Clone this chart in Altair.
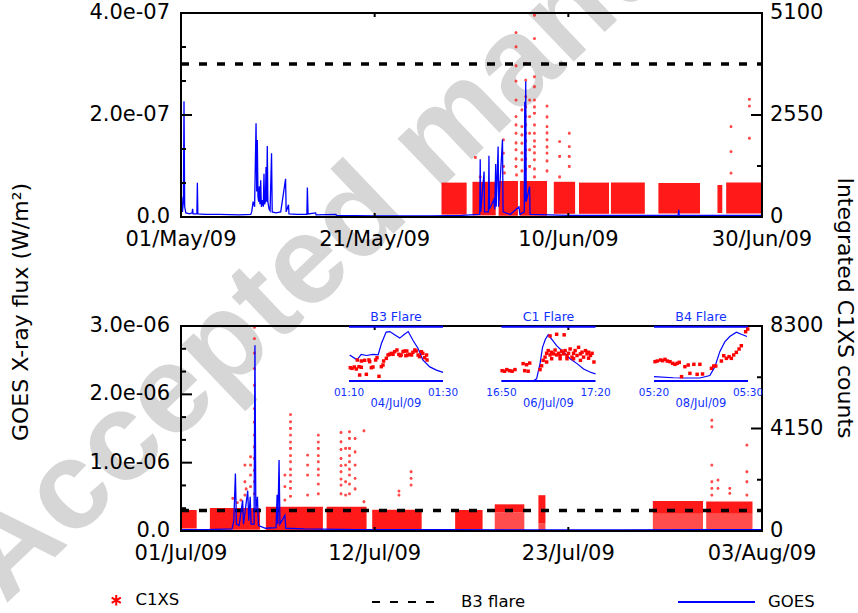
import json
import altair as alt
import pandas as pd

FONT = "DejaVu Sans"
RED = "#ff0000"
BLUE = "#0000ff"
TXT_BLUE = "#1030ff"
CW, CH = 858, 613          # canvas
L, R = 181, 762            # plot frame left / right (both panels)
T1, B1 = 13, 217           # top panel frame
T2, B2 = 326, 531          # bottom panel frame

# ---------------- axis ticks / labels ----------------
top_day_domain = [0, 60]
bot_day_domain = [0, 33]
top_x_ticks = [0, 20, 40, 60]
top_x_labels = ["01/May/09", "21/May/09", "10/Jun/09", "30/Jun/09"]
bot_x_ticks = [0, 11, 22, 33]
bot_x_labels = ["01/Jul/09", "12/Jul/09", "23/Jul/09", "03/Aug/09"]
top_flux_ticks = [0.0, 2.0e-7, 4.0e-7]
top_flux_labels = ["0.0", "2.0e-07", "4.0e-07"]
top_flux_minor = [0.6667e-7, 1.3333e-7, 2.6667e-7, 3.3333e-7]
bot_flux_ticks = [0.0, 1.0e-6, 2.0e-6, 3.0e-6]
bot_flux_labels = ["0.0", "1.0e-06", "2.0e-06", "3.0e-06"]
bot_flux_minor = [0.3333e-6, 0.6667e-6, 1.3333e-6, 1.6667e-6, 2.3333e-6, 2.6667e-6]
top_cnt_ticks = [0, 2550, 5100]
top_cnt_labels = ["0", "2550", "5100"]
top_cnt_minor = [1275, 3825]
bot_cnt_ticks = [0, 4150, 8300]
bot_cnt_labels = ["0", "4150", "8300"]
bot_cnt_minor = [2075, 6225]
b3_level = 3.0e-7
left_title = "GOES X-ray flux (W/m²)"
right_title = "Integrated C1XS counts"
watermark = "Accepted manuscript"

# ---------------- GOES (top: days since 01/May/09, flux in 1e-7 W/m2) ----------------
goes_top_day = [0.0, 0.08, 0.15, 0.25, 0.31, 0.38, 0.5, 0.9, 1.15, 1.2, 1.25, 1.64, 1.69, 1.74, 2.5, 4, 6,
                7.2, 7.3, 7.45, 7.6, 7.75, 7.82, 7.88, 7.95, 8.02, 8.09, 8.15, 8.23, 8.3, 8.43, 8.5, 8.57, 8.63,
                8.72, 8.78, 8.84, 8.91, 8.97, 9.1, 9.2, 9.35, 9.42, 9.8, 10.3, 10.8, 10.86, 11.1, 11.15, 12.0,
                13.0, 13.05, 13.12, 13.9, 13.95, 16, 16.05, 20, 26, 29, 30.85, 30.9, 30.95, 31.3, 31.35, 31.75,
                31.8, 31.85, 32.3, 32.4, 32.5, 32.55, 32.75, 32.8, 33.2, 33.26, 34, 34.9, 35.0, 35.45, 35.5,
                35.55, 35.6, 35.65, 36.0, 36.05, 40, 45, 51.35, 51.4, 51.45, 55, 60]
goes_top_flux_e7 = [0.08, 0.39, 0.1, 0.3, 2.27, 0.2, 0.08, 0.06, 0.08, 0.16, 0.06, 0.06, 0.67, 0.06, 0.05, 0.05, 0.04,
                    0.05, 0.1, 0.3, 0.2, 1.84, 0.5, 1.51, 0.4, 0.3, 0.6, 0.25, 0.72, 0.2, 0.33, 0.2, 0.85, 0.25,
                    0.3, 0.98, 0.3, 1.39, 0.3, 0.15, 0.12, 1.25, 0.1, 0.08, 0.1, 0.75, 0.1, 0.24, 0.06, 0.05,
                    0.05, 0.58, 0.06, 0.08, 0.04, 0.05, 0.03, 0.02, 0.02, 0.03, 0.05, 1.13, 0.1, 0.89, 0.1, 0.1,
                    1.2, 0.15, 0.34, 0.15, 1.04, 0.2, 1.38, 0.2, 1.52, 0.1, 0.05, 0.2, 0.05, 0.1, 2.26,
                    0.3, 2.66, 0.3, 0.6, 0.05, 0.03, 0.03, 0.03, 0.14, 0.03, 0.03, 0.03]

# ---------------- GOES (bottom: days since 01/Jul/09, flux in 1e-6 W/m2) ----------------
goes_bot_day = [0, 1.5, 2.9, 3.0, 3.09, 3.15, 3.3, 3.5, 3.55, 3.79, 3.85, 3.93, 3.98, 4.15, 4.2, 4.25, 4.34,
                4.4, 4.8, 5.4, 5.46, 5.5, 5.57, 5.62, 5.9, 5.95, 7, 10, 15, 20, 25, 30, 33]
goes_bot_flux_e6 = [0.02, 0.02, 0.03, 0.15, 0.84, 0.1, 0.08, 0.45, 0.1, 0.59, 0.15, 0.5, 0.1, 0.1, 2.72, 0.3, 0.5,
                    0.08, 0.04, 0.05, 0.53, 0.1, 1.04, 0.1, 0.23, 0.04, 0.03, 0.02, 0.02, 0.015, 0.015, 0.02, 0.02]

# ---------------- C1XS observing blocks (dense clouds of points) ----------------
top_blk_start = [26.9, 30.1, 32.8, 35.0, 38.5, 41.1, 44.4, 49.3, 55.4, 56.3]
top_blk_end = [29.5, 32.5, 34.8, 37.8, 40.7, 44.2, 47.9, 53.6, 55.9, 60.0]
top_blk_low = [60, 40, 30, 30, 80, 80, 80, 90, 100, 90]
top_blk_high = [860, 880, 900, 900, 880, 860, 860, 850, 800, 860]

bot_blk_start = [0.0, 1.64, 4.82, 8.27, 10.86, 15.57, 17.82, 20.3, 26.8, 29.83]
bot_blk_end = [0.89, 4.49, 8.06, 10.54, 13.67, 17.13, 19.5, 20.7, 29.65, 32.46]
bot_blk_low = [100, 50, 40, 50, 50, 60, 750, 300, 700, 700]
bot_blk_high = [850, 930, 980, 980, 860, 850, 1080, 1450, 1210, 1190]
bot_sparse_start = [17.82, 20.3, 26.8, 29.83]
bot_sparse_end = [19.5, 20.7, 29.65, 32.46]
bot_sparse_low = [0, 0, 0, 0]
bot_sparse_high = [750, 300, 700, 700]

# ---------------- C1XS points above the bands ----------------
top_out_day = [30.4, 30.9, 33.3, 33.3, 33.3, 33.4,
               34.6, 34.6, 34.6, 34.6, 34.6, 34.6, 34.6, 34.6, 34.6, 34.6, 34.6, 34.6, 34.65,
               35.2, 35.2, 35.2, 35.2, 35.2, 35.2, 35.2,
               35.6, 35.6, 35.6, 35.6, 35.6, 35.6, 35.6, 35.6, 35.6, 35.6, 35.6,
               36.0, 36.0, 36.0, 36.0, 36.0,
               36.5, 36.5, 36.5, 36.5, 36.5, 36.5, 36.5, 36.5, 36.5, 36.5, 36.5, 36.5, 36.5, 36.5, 36.5,
               37.8, 37.8, 37.8, 37.8, 37.8, 37.8, 37.8, 37.8, 37.8,
               39.1, 39.1, 39.1, 40.1, 40.1, 40.1, 40.1,
               56.8, 56.8, 56.8, 58.7, 58.7, 58.7]
top_out_cnt = [1487, 1000, 1927, 1595, 1262, 1100,
               4610, 4253, 3779, 3397, 2924, 2508, 2300, 2093, 1850, 1678, 1450, 1262, 1050,
               2675, 2260, 2050, 1844, 1600, 1429, 1150,
               3837, 3422, 3007, 2750, 2508, 2300, 2093, 1900, 1678, 1450, 1200,
               2924, 2508, 2093, 1678, 1262,
               5042, 4460, 3505, 3256, 2924, 2750, 2592, 2300, 2093, 1900, 1761, 1600, 1429, 1200, 1000,
               2774, 2500, 2259, 2100, 1927, 1750, 1595, 1400, 1150,
               1886, 1512, 1000, 2093, 1761, 1512, 1262,
               2259, 1636, 1096, 2940, 2774, 1969]

bot_out_day = [2.94, 3.2, 3.4, 3.63, 3.63, 3.63, 3.7, 3.95, 3.95, 3.95, 3.95,
               4.17, 4.17, 4.17, 4.17, 4.17, 4.17, 4.17, 4.17, 4.17, 4.17, 4.17, 4.17, 4.17,
               5.9, 5.9, 5.9,
               6.22, 6.22, 6.22, 6.22, 6.22, 6.22, 6.22, 6.22, 6.22, 6.22, 6.22, 6.22, 6.22,
               7.19, 7.19, 7.19, 7.19,
               7.8, 7.8, 7.8, 7.8, 7.8, 7.8, 7.8, 7.8, 7.8,
               9.09, 9.09, 9.09, 9.09, 9.09, 9.09, 9.09, 9.09, 9.09,
               9.35, 9.35, 9.35, 9.35,
               9.57, 9.57, 9.57, 9.57, 9.57, 9.57, 9.57, 9.57, 9.57,
               9.89, 9.89, 9.89, 9.89, 9.89,
               10.39, 10.39, 12.38, 12.38, 13.07, 13.07, 13.07,
               30.15, 30.15, 30.15, 30.15, 30.15, 30.15, 30.5, 30.5, 31.17, 31.17,
               32.14, 32.14, 32.14, 32.14]
bot_out_cnt = [1320, 1150, 1250, 2667, 1993, 1455, 1700, 3004, 2667, 2263, 1800,
               8250, 7786, 7200, 6574, 5900, 4957, 4400, 3879, 3400, 2936, 2450, 1993, 1500,
               2263, 1800, 1253,
               4715, 4418, 4150, 3879, 3600, 3341, 3050, 2802, 2500, 2263, 2000, 1724, 1400,
               3071, 2667, 2263, 1455,
               3879, 3600, 3341, 3050, 2802, 2500, 2263, 1900, 1500,
               3987, 3610, 3300, 2936, 2650, 2398, 2100, 1859, 1500,
               3341, 2667, 1993, 1455,
               4014, 3745, 3341, 3050, 2802, 2500, 2263, 1900, 1500,
               3745, 3200, 2667, 2128, 1700,
               4054, 1185, 1616, 1455, 2398, 2128, 1859,
               4485, 4216, 2667, 1993, 1724, 1450, 2061, 1724, 1724, 1520,
               3475, 2398, 1993, 1455]

# ---------------- insets (minutes from start, relative level 0..1) ----------------
inset_titles = ["B3 Flare", "C1 Flare", "B4 Flare"]
inset_start = ["01:10", "16:50", "05:20"]
inset_end = ["01:30", "17:20", "05:30"]
inset_dates = ["04/Jul/09", "06/Jul/09", "08/Jul/09"]
inset_minutes = [20, 30, 10]

b3_goes_min = [0.14, 1.7, 2.6, 3.7, 5.1, 6.2, 6.9, 7.9, 8.7, 9.7, 10.8, 11.8, 12.6, 13.6, 14.7, 15.7, 17.2, 18.6, 20.0]
b3_goes_rel = [0.48, 0.39, 0.49, 0.47, 0.49, 0.48, 0.69, 0.90, 0.91, 0.85, 0.79, 0.86, 0.91, 0.75, 0.60, 0.39, 0.26, 0.20, 0.16]
b3_c1xs_min = [0.28, 0.64, 1.13, 1.56, 2.13, 2.62, 2.27, 3.69, 1.77, 2.62, 3.33, 4.25, 4.40, 4.75, 5.1, 5.67, 5.96,
               6.38, 6.88, 7.23, 7.37, 7.94, 8.30, 8.65, 9.0, 9.36, 9.71, 10.2, 10.6, 10.9, 11.1, 11.5, 11.8, 12.1,
               12.3, 12.5, 12.9, 13.3, 13.6, 14.0, 14.3, 14.7, 15.0, 15.4, 15.7, 16.1, 16.5, 16.6]
b3_c1xs_rel = [0.245, 0.233, 0.258, 0.221, 0.264, 0.252, 0.110, 0.123, 0.387, 0.368, 0.380, 0.387, 0.356, 0.245, 0.258,
               0.387, 0.429, 0.086, 0.264, 0.294, 0.368, 0.417, 0.479, 0.491, 0.509, 0.491, 0.540, 0.571, 0.491,
               0.466, 0.479, 0.540, 0.552, 0.466, 0.552, 0.479, 0.491, 0.479, 0.528, 0.571, 0.552, 0.479, 0.448,
               0.540, 0.509, 0.429, 0.479, 0.387]

c1_goes_min = [0, 10.1, 11.2, 12.3, 13.1, 14.0, 14.9, 16.0, 17.6, 19.8, 21.9, 24.1, 26.2, 28.4, 30]
c1_goes_rel = [0, 0, 0.04, 0.32, 0.62, 0.77, 0.85, 0.77, 0.65, 0.53, 0.41, 0.32, 0.22, 0.16, 0.13]
c1_c1xs_min = [0.2, 1.0, 1.7, 2.6, 3.4, 4.3, 6.9, 8.0, 9.0, 7.4, 8.5, 12.3, 12.8, 13.3, 13.9, 14.4, 14.9, 15.5,
               16.0, 16.6, 17.1, 17.6, 18.2, 18.7, 19.2, 19.8, 20.3, 20.9, 21.4, 21.9, 22.5, 23.0, 23.5, 24.1,
               24.6, 25.2, 25.7, 26.2, 26.8, 27.3, 27.8, 28.4, 28.9, 29.5, 15.5, 17.6, 20.0, 14.4, 16.0, 18.7,
               20.9, 23.0, 25.2, 27.8]
c1_c1xs_rel = [0.19, 0.18, 0.21, 0.19, 0.18, 0.21, 0.32, 0.30, 0.33, 0.19, 0.18, 0.21, 0.28, 0.38, 0.44, 0.51,
               0.56, 0.48, 0.53, 0.50, 0.57, 0.48, 0.51, 0.47, 0.55, 0.50, 0.56, 0.47, 0.51, 0.59, 0.44, 0.51,
               0.56, 0.47, 0.62, 0.50, 0.53, 0.44, 0.56, 0.50, 0.53, 0.47, 0.51, 0.35, 0.83, 0.86, 0.85, 0.35,
               0.41, 0.41, 0.41, 0.41, 0.38, 0.42]

b4_goes_min = [0, 2.05, 3.46, 4.88, 5.94, 6.47, 7.0, 7.53, 8.06, 8.76, 9.29, 9.89]
b4_goes_rel = [0.08, 0.06, 0.055, 0.055, 0.10, 0.26, 0.54, 0.72, 0.82, 0.90, 0.86, 0.82]
b4_c1xs_min = [0.11, 0.35, 0.71, 0.92, 1.17, 1.41, 1.70, 1.98, 2.23, 2.47, 2.69, 2.93, 3.29, 3.64, 3.82, 4.24,
               4.59, 4.88, 5.16, 6.11, 6.36, 6.57, 7.17, 7.42, 7.70, 7.99, 8.23, 8.48, 8.76, 9.05, 9.29, 9.75, 9.97]
b4_c1xs_rel = [0.356, 0.368, 0.387, 0.374, 0.399, 0.368, 0.356, 0.325, 0.307, 0.325, 0.344, 0.080, 0.264, 0.294,
               0.141, 0.307, 0.123, 0.307, 0.129, 0.233, 0.276, 0.276, 0.368, 0.466, 0.417, 0.448, 0.417, 0.479,
               0.528, 0.589, 0.650, 0.908, 0.957]

# ---------------- scales (pixel ranges = panel frames) ----------------
INSET_STEP = 1.6223            # inset spacing, in inset widths
INS_L, INS_R, INS_T, INS_B = 349, 748, 326.7, 381
TICK_FS = 21
TITLE_FS = 22


def S(domain, rng):
    return alt.Scale(domain=domain, range=rng, nice=False, zero=False)


top_day = S(top_day_domain, [L, R])
top_flux = S([0, 4e-7], [B1, T1])
top_cnt = S([0, 5100], [B1, T1])
bot_day = S(bot_day_domain, [L, R])
bot_flux = S([0, 3e-6], [B2, T2])
bot_cnt = S([0, 8300], [B2, T2])
ins_x = S([0, 2 * INSET_STEP + 1], [INS_L, INS_R])
ins_y = S([0, 1], [INS_B, INS_T])

layers = []

# ---------------- watermark (behind everything) ----------------
layers.append(alt.Chart(pd.DataFrame({"t": [watermark]})).mark_text(
    angle=316.3, font="Liberation Sans", fontWeight="bold", fontSize=125, color="#d6d6d6",
    align="left", baseline="alphabetic").encode(text="t:N", x=alt.value(5), y=alt.value(605)))


def X(f, sc):
    return alt.X(f, scale=sc, axis=None)


def Y(f, sc):
    return alt.Y(f, scale=sc, axis=None)


ASTERISK = "M0,-1L0,1M-0.87,-0.5L0.87,0.5M-0.87,0.5L0.87,-0.5"
LEG = dict(orient="none", title=None, padding=0, labelFont=FONT, labelFontSize=16.5, labelColor="black",
           symbolOpacity=1)
LEG_ROW = 601  # centre line of the legend row


def panel(day_sc, flux_sc, cnt_sc, top_px, bot_px, blk, out_day, out_cnt, goes_day, goes_flux, dom,
          xt, xl, ft, fl, fmin, ct, cl, cmin, legend):
    out = []
    # C1XS dense blocks
    out.append(alt.Chart(blk).mark_rect(color=RED, opacity=0.9).encode(
        x=X("s:Q", day_sc), x2="e:Q", y=Y("lo:Q", cnt_sc), y2="hi:Q"))
    # C1XS individual points
    pts_df = pd.DataFrame({"day": out_day, "cnt": out_cnt, "c": "C1XS"})
    enc = dict(x=X("day:Q", day_sc), y=Y("cnt:Q", cnt_sc))
    if legend:
        enc["shape"] = alt.Shape("c:N", scale=alt.Scale(domain=["C1XS"], range=[ASTERISK]),
                                 legend=alt.Legend(legendX=108, legendY=LEG_ROW - 9, symbolSize=110,
                                                   symbolStrokeWidth=2, symbolStrokeColor=RED,
                                                   symbolFillColor="transparent", labelOffset=11, **LEG))
    out.append(alt.Chart(pts_df).mark_point(shape=ASTERISK, color=RED, size=8, strokeWidth=1.6,
                                            filled=False).encode(**enc))
    # B3 flare level
    b3_df = pd.DataFrame({"x0": [dom[0]], "x1": [dom[1]], "lvl": [b3_level], "b": ["B3 flare"]})
    enc = dict(x=X("x0:Q", day_sc), x2="x1:Q", y=Y("lvl:Q", flux_sc))
    if legend:
        enc["strokeDash"] = alt.StrokeDash("b:N", scale=alt.Scale(domain=["B3 flare"], range=[[8, 10]]),
                                           legend=alt.Legend(legendX=371, legendY=LEG_ROW - 33, symbolType="stroke",
                                                             symbolSize=66 * 66, symbolStrokeWidth=2,
                                                             symbolStrokeColor="black", labelOffset=22, **LEG))
        out.append(alt.Chart(b3_df).mark_rule(color="black", strokeWidth=3.5).encode(**enc))
    else:
        out.append(alt.Chart(b3_df).mark_rule(color="black", strokeWidth=3.5, strokeDash=[8, 10]).encode(**enc))
    # GOES
    g_df = pd.DataFrame({"day": goes_day, "flux": goes_flux, "g": "GOES"})
    enc = dict(x=X("day:Q", day_sc), y=Y("flux:Q", flux_sc))
    if legend:
        enc["color"] = alt.Color("g:N", scale=alt.Scale(domain=["GOES"], range=[BLUE]),
                                 legend=alt.Legend(legendX=677, legendY=LEG_ROW - 38.5, symbolType="stroke",
                                                   symbolSize=77 * 77, symbolStrokeWidth=2, labelOffset=12, **LEG))
        out.append(alt.Chart(g_df).mark_line(strokeWidth=1.3).encode(**enc))
    else:
        out.append(alt.Chart(g_df).mark_line(color=BLUE, strokeWidth=1.3).encode(**enc))
    # frame
    fr = pd.DataFrame({"x0": [dom[0]], "x1": [dom[1]], "y0": [0.0], "y1": [ft[-1]]})
    out.append(alt.Chart(fr).mark_rect(fill=None, stroke="black", strokeWidth=2).encode(
        x=X("x0:Q", day_sc), x2="x1:Q", y=Y("y0:Q", flux_sc), y2="y1:Q"))
    # ticks (inward)
    rule = lambda df: alt.Chart(df).mark_rule(color="black", strokeWidth=2)
    out.append(rule(pd.DataFrame({"v": ft})).encode(y=Y("v:Q", flux_sc), x=alt.value(L), x2=alt.value(L + 11)))
    out.append(rule(pd.DataFrame({"v": fmin})).encode(y=Y("v:Q", flux_sc), x=alt.value(L), x2=alt.value(L + 5)))
    out.append(rule(pd.DataFrame({"v": ct})).encode(y=Y("v:Q", cnt_sc), x=alt.value(R - 11), x2=alt.value(R)))
    out.append(rule(pd.DataFrame({"v": cmin})).encode(y=Y("v:Q", cnt_sc), x=alt.value(R - 5), x2=alt.value(R)))
    out.append(rule(pd.DataFrame({"v": xt})).encode(x=X("v:Q", day_sc), y=alt.value(bot_px - 4),
                                                     y2=alt.value(bot_px)))
    out.append(rule(pd.DataFrame({"v": xt})).encode(x=X("v:Q", day_sc), y=alt.value(top_px),
                                                     y2=alt.value(top_px + 4)))
    # tick labels
    txt = dict(font=FONT, fontSize=TICK_FS, color="black")
    out.append(alt.Chart(pd.DataFrame({"v": xt, "t": xl})).mark_text(baseline="top", align="center", **txt).encode(
        x=X("v:Q", day_sc), y=alt.value(bot_px + 12), text="t:N"))
    out.append(alt.Chart(pd.DataFrame({"v": ft, "t": fl})).mark_text(baseline="middle", align="right", **txt).encode(
        y=Y("v:Q", flux_sc), x=alt.value(L - 11), text="t:N"))
    out.append(alt.Chart(pd.DataFrame({"v": ct, "t": cl})).mark_text(baseline="middle", align="left", **txt).encode(
        y=Y("v:Q", cnt_sc), x=alt.value(R + 8), text="t:N"))
    return out


top_blk_df = pd.DataFrame({"s": top_blk_start, "e": top_blk_end, "lo": top_blk_low, "hi": top_blk_high})
bot_blk_df = pd.DataFrame({"s": bot_blk_start, "e": bot_blk_end, "lo": bot_blk_low, "hi": bot_blk_high})
bot_sp_df = pd.DataFrame({"s": bot_sparse_start, "e": bot_sparse_end, "lo": bot_sparse_low, "hi": bot_sparse_high})

# sparse lower parts of some bottom blocks
layers.append(alt.Chart(bot_sp_df).mark_rect(color=RED, opacity=0.7).encode(
    x=X("s:Q", bot_day), x2="e:Q", y=Y("lo:Q", bot_cnt), y2="hi:Q"))

layers += panel(top_day, top_flux, top_cnt, T1, B1, top_blk_df, top_out_day, top_out_cnt,
                goes_top_day, [v * 1e-7 for v in goes_top_flux_e7], top_day_domain,
                top_x_ticks, top_x_labels, top_flux_ticks, top_flux_labels, top_flux_minor,
                top_cnt_ticks, top_cnt_labels, top_cnt_minor, legend=False)
layers += panel(bot_day, bot_flux, bot_cnt, T2, B2, bot_blk_df, bot_out_day, bot_out_cnt,
                goes_bot_day, [v * 1e-6 for v in goes_bot_flux_e6], bot_day_domain,
                bot_x_ticks, bot_x_labels, bot_flux_ticks, bot_flux_labels, bot_flux_minor,
                bot_cnt_ticks, bot_cnt_labels, bot_cnt_minor, legend=True)

# ---------------- insets ----------------
ins_goes_rows, ins_pts_rows = [], []
for k, (mins, rels) in enumerate([(b3_goes_min, b3_goes_rel), (c1_goes_min, c1_goes_rel), (b4_goes_min, b4_goes_rel)]):
    for m, r in zip(mins, rels):
        ins_goes_rows.append({"k": k, "xi": k * INSET_STEP + m / inset_minutes[k], "rel": r})
for k, (mins, rels) in enumerate([(b3_c1xs_min, b3_c1xs_rel), (c1_c1xs_min, c1_c1xs_rel), (b4_c1xs_min, b4_c1xs_rel)]):
    for m, r in zip(mins, rels):
        ins_pts_rows.append({"k": k, "xi": k * INSET_STEP + m / inset_minutes[k], "rel": r})
ins_frame_df = pd.DataFrame([{"x0": k * INSET_STEP, "x1": k * INSET_STEP + 1, "rel": r}
                             for k in range(3) for r in (0, 1)])
ins_title_df = pd.DataFrame({"t": inset_titles, "xi": [k * INSET_STEP + 0.5 for k in range(3)], "rel": 1})
ins_date_df = pd.DataFrame({"t": inset_dates, "xi": [k * INSET_STEP + 0.5 for k in range(3)], "rel": 0})
ins_time_df = pd.DataFrame({"t": inset_start + inset_end,
                            "xi": [k * INSET_STEP for k in range(3)] + [k * INSET_STEP + 1 for k in range(3)],
                            "rel": 0})

layers.append(alt.Chart(ins_frame_df).mark_rule(color=BLUE, strokeWidth=2).encode(
    x=X("x0:Q", ins_x), x2="x1:Q", y=Y("rel:Q", ins_y)))
layers.append(alt.Chart(pd.DataFrame(ins_goes_rows)).mark_line(color=BLUE, strokeWidth=1.2).encode(
    x=X("xi:Q", ins_x), y=Y("rel:Q", ins_y), detail="k:N"))
layers.append(alt.Chart(pd.DataFrame(ins_pts_rows)).mark_square(color=RED, size=12, opacity=1).encode(
    x=X("xi:Q", ins_x), y=Y("rel:Q", ins_y)))
layers.append(alt.Chart(ins_title_df).mark_text(font=FONT, fontSize=12.5, color=TXT_BLUE, dy=-10).encode(
    x=X("xi:Q", ins_x), y=Y("rel:Q", ins_y), text="t:N"))
layers.append(alt.Chart(ins_time_df).mark_text(font=FONT, fontSize=10.5, color=TXT_BLUE, dy=11.7).encode(
    x=X("xi:Q", ins_x), y=Y("rel:Q", ins_y), text="t:N"))
layers.append(alt.Chart(ins_date_df).mark_text(font=FONT, fontSize=11.5, color=TXT_BLUE, dy=23.3).encode(
    x=X("xi:Q", ins_x), y=Y("rel:Q", ins_y), text="t:N"))

# ---------------- axis titles ----------------
layers.append(alt.Chart(pd.DataFrame({"t": [left_title]})).mark_text(
    font=FONT, fontSize=TITLE_FS, color="black", angle=270, align="center", baseline="middle").encode(
    text="t:N", x=alt.value(21), y=alt.value(312)))
layers.append(alt.Chart(pd.DataFrame({"t": [right_title]})).mark_text(
    font=FONT, fontSize=TITLE_FS, color="black", angle=90, align="center", baseline="middle").encode(
    text="t:N", x=alt.value(845), y=alt.value(308)))

chart = alt.layer(*layers).resolve_scale(
    x="independent", y="independent", shape="independent", color="independent", strokeDash="independent"
).properties(
    width=CW, height=CH, autosize=alt.AutoSizeParams(type="none"), padding=0, background="white"
).configure_view(strokeWidth=0)

chart.save("out.html", embed_options={"renderer": "svg", "actions": False})
